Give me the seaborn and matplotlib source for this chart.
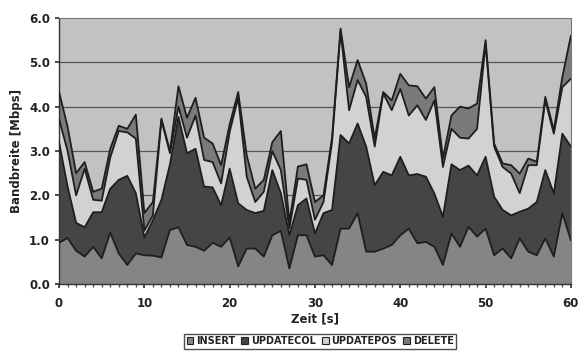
import numpy as np
import pandas as pd
import matplotlib
matplotlib.use("Agg")
import matplotlib.pyplot as plt
import seaborn as sns

# time axis, one sample per second
zeit = list(range(61))

# bandwidth per message type (Mbps)
insert = [0.93, 1.04, 0.75, 0.62, 0.84, 0.58, 1.16, 0.69, 0.43, 0.69,
          0.65, 0.64, 0.60, 1.22, 1.28, 0.88, 0.84, 0.75, 0.93, 0.84,
          1.05, 0.40, 0.80, 0.80, 0.62, 1.10, 1.20, 0.35, 1.10, 1.10,
          0.62, 0.65, 0.43, 1.25, 1.25, 1.60, 0.73, 0.73, 0.80, 0.88,
          1.10, 1.25, 0.92, 0.95, 0.84, 0.43, 1.14, 0.84, 1.29, 1.07,
          1.25, 0.65, 0.80, 0.58, 1.03, 0.73, 0.65, 1.03, 0.62, 1.60,
          0.99]
update_col = [2.27, 1.16, 0.63, 0.66, 0.78, 1.04, 0.99, 1.66, 2.01, 1.36,
              0.40, 0.80, 1.30, 1.48, 2.49, 2.07, 2.21, 1.45, 1.25, 0.94,
              1.55, 1.42, 0.87, 0.80, 1.03, 1.47, 0.85, 0.75, 0.68, 0.83,
              0.52, 0.95, 1.24, 2.11, 1.92, 2.02, 2.37, 1.50, 1.73, 1.57,
              1.77, 1.20, 1.56, 1.47, 1.20, 1.09, 1.56, 1.73, 1.38, 1.38,
              1.62, 1.32, 0.87, 0.97, 0.60, 0.97, 1.20, 1.54, 1.42, 1.79,
              2.11]
update_pos = [0.52, 0.80, 0.62, 1.32, 0.28, 0.26, 0.70, 1.10, 0.98, 1.23,
              0.15, 0.11, 1.80, 0.25, 0.23, 0.35, 0.75, 0.60, 0.57, 0.49,
              0.83, 2.38, 0.75, 0.25, 0.43, 0.43, 0.52, 0.15, 0.60, 0.42,
              0.31, 0.25, 1.53, 2.34, 0.75, 0.98, 1.12, 0.87, 1.77, 1.47,
              1.53, 1.35, 1.55, 1.28, 2.10, 1.12, 0.80, 0.73, 0.61, 1.05,
              2.55, 1.13, 0.97, 0.94, 0.42, 0.98, 0.83, 1.57, 1.35, 1.05,
              1.53]
delete = [0.61, 0.55, 0.50, 0.15, 0.18, 0.27, 0.20, 0.12, 0.08, 0.54,
          0.40, 0.30, 0.03, 0.05, 0.46, 0.45, 0.40, 0.50, 0.42, 0.41,
          0.17, 0.13, 0.48, 0.30, 0.27, 0.20, 0.88, 0.15, 0.27, 0.35,
          0.40, 0.15, 0.10, 0.06, 0.52, 0.45, 0.30, 0.18, 0.03, 0.22,
          0.34, 0.68, 0.43, 0.48, 0.30, 0.19, 0.30, 0.70, 0.68, 0.57,
          0.08, 0.07, 0.08, 0.19, 0.44, 0.15, 0.08, 0.08, 0.08, 0.23,
          0.97]

labels = ["INSERT", "UPDATECOL", "UPDATEPOS", "DELETE"]
colors = ["#858585", "#454545", "#d2d2d2", "#7a7a7a"]

df = pd.DataFrame({"zeit": zeit, "INSERT": insert, "UPDATECOL": update_col,
                   "UPDATEPOS": update_pos, "DELETE": delete})

sns.set_theme(style="white")
plt.rcParams["font.family"] = ["DejaVu Sans"]

fig = plt.figure(figsize=(5.79, 3.52), dpi=100)
ax = fig.add_axes([0.102, 0.193, 0.884, 0.756])
ax.set_facecolor("#c2c2c2")

# stacked areas
ax.stackplot(df["zeit"], [df[c] for c in labels], colors=colors,
             labels=labels, edgecolor="none", zorder=2)

# dark outlines on every stack boundary
cum = df[labels].cumsum(axis=1)
cum["zeit"] = df["zeit"]
long_df = cum.melt(id_vars="zeit", var_name="layer", value_name="mbps")
sns.lineplot(data=long_df, x="zeit", y="mbps", units="layer", estimator=None,
             color="#1e1e1e", linewidth=1.3, ax=ax, zorder=3, legend=False)

# horizontal grid lines
for yv in range(1, 6):
    ax.axhline(yv, color="#555555", linewidth=0.9, zorder=1)

ax.set_xlim(0, 60)
ax.set_ylim(0, 6)
ax.set_xticks(range(0, 61, 10))
ax.set_xticks(range(0, 61), minor=True)
ax.set_yticks(np.arange(0, 6.1, 1.0))
ax.set_yticklabels([f"{v:.1f}" for v in np.arange(0, 6.1, 1.0)])
ax.tick_params(axis="both", which="major", labelsize=8.5, length=3,
               direction="out", color="#333333", bottom=True, left=True)
ax.tick_params(axis="x", which="major", pad=6)
ax.tick_params(axis="x", which="minor", length=2.5, direction="out",
               color="#555555", bottom=True)
for lab in ax.get_xticklabels() + ax.get_yticklabels():
    lab.set_fontweight("bold")
    lab.set_color("#222222")
for side in ["left", "bottom"]:
    ax.spines[side].set_color("#333333")
    ax.spines[side].set_linewidth(1.0)
for side in ["top", "right"]:
    ax.spines[side].set_color("#777777")
    ax.spines[side].set_linewidth(0.8)

ax.set_xlabel("Zeit [s]", fontsize=8.5, fontweight="bold", color="#222222",
              labelpad=2)
ax.set_ylabel("Bandbreite [Mbps]", fontsize=8.5, fontweight="bold",
              color="#222222", labelpad=4)

leg = ax.legend(loc="center", bbox_to_anchor=(0.51, -0.215), ncol=4,
                frameon=True, fancybox=False, fontsize=7,
                handlelength=0.7, handleheight=0.7, handletextpad=0.3,
                columnspacing=0.6, borderpad=0.25)
leg.get_frame().set_edgecolor("#222222")
leg.get_frame().set_linewidth(1.0)
for t in leg.get_texts():
    t.set_fontweight("bold")
    t.set_color("#222222")
for h in leg.legend_handles:
    h.set_edgecolor("#222222")
    h.set_linewidth(0.8)

fig.savefig("out.png", dpi=100, facecolor="white")
